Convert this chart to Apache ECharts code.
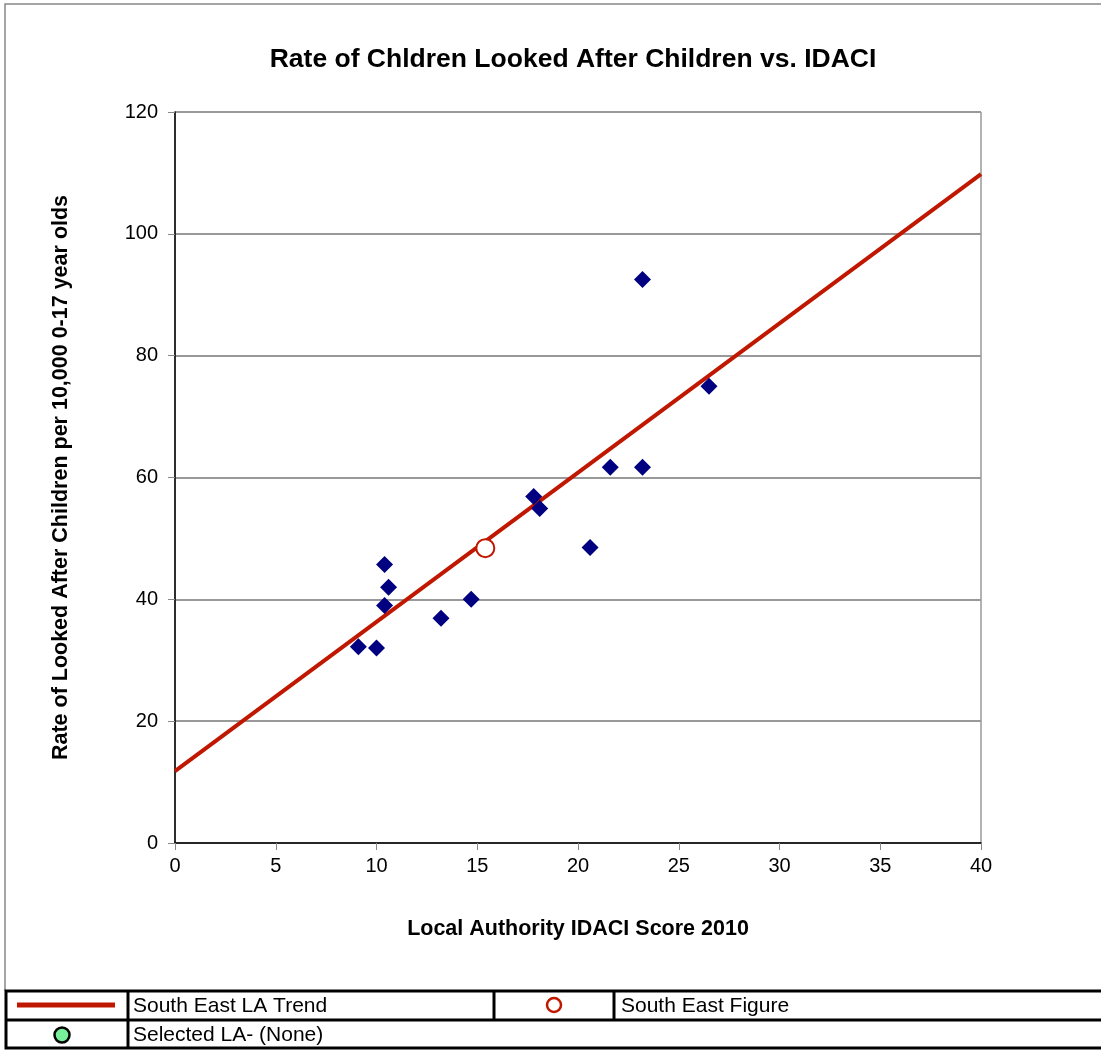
<!DOCTYPE html>
<html>
<head>
<meta charset="utf-8">
<script src="https://cdn.jsdelivr.net/npm/echarts@6/dist/echarts.min.js"></script>
<style>
html,body{margin:0;padding:0;background:#fff;}
#c{width:1101px;height:1050px;}
</style>
</head>
<body>
<div id="c"></div>
<script>
// ---- data ----
const laIdaci = [9.1, 10.0, 10.4, 10.4, 10.6, 13.2, 14.7, 17.8, 18.1, 20.6, 21.6, 23.2, 23.2, 26.5];
const laRate  = [32.2, 32.0, 45.7, 39.0, 42.0, 36.9, 40.0, 56.9, 54.9, 48.5, 61.7, 61.7, 92.5, 75.0];
const seFigure = [15.4, 48.4];
const trendX = [0, 40];
const trendY = [11.8, 109.8];
const xTicks = [0, 5, 10, 15, 20, 25, 30, 35, 40];
const yTicks = [0, 20, 40, 60, 80, 100, 120];
const titleText = 'Rate of Chldren Looked After Children vs. IDACI';
const xName = 'Local Authority IDACI Score 2010';
const yName = 'Rate of Looked After Children per 10,000 0-17 year olds';
const legendLabels = ['South East LA Trend', 'South East Figure', 'Selected LA- (None)'];

const FONT = '"Liberation Sans", Arial, sans-serif';
const chart = echarts.init(document.getElementById('c'), null, {renderer: 'canvas'});

const laPts = laIdaci.map((x, i) => [x, laRate[i]]);
const trendPts = trendX.map((x, i) => [x, trendY[i]]);

const TOP = 112, LEFT = 175, RIGHT_X = 981, BOTTOM_Y = 843;

chart.setOption({
  animation: false,
  backgroundColor: '#fff',
  title: {
    text: titleText,
    left: 568, top: 41, textAlign: 'center',
    textStyle: {fontFamily: FONT, fontSize: 26.5, fontWeight: 'bold', color: '#000'}
  },
  grid: {left: LEFT, top: TOP, right: 1101 - RIGHT_X, bottom: 1050 - BOTTOM_Y, containLabel: false,
         show: true, borderColor: '#666', borderWidth: 1},
  xAxis: {
    type: 'value', min: xTicks[0], max: xTicks[xTicks.length - 1], interval: 5,
    name: xName, nameLocation: 'middle', nameGap: 75,
    nameTextStyle: {fontFamily: FONT, fontSize: 21.5, fontWeight: 'bold', color: '#000'},
    axisLine: {show: true, onZero: false, lineStyle: {color: '#000', width: 1.5}},
    axisTick: {show: true, length: 7, lineStyle: {color: '#888', width: 1}},
    axisLabel: {fontFamily: FONT, fontSize: 20, color: '#000', margin: 13},
    splitLine: {show: false}
  },
  yAxis: {
    type: 'value', min: yTicks[0], max: yTicks[yTicks.length - 1], interval: 20,
    name: yName, nameLocation: 'middle', nameGap: 103, nameRotate: 90,
    nameTextStyle: {fontFamily: FONT, fontSize: 21.5, fontWeight: 'bold', color: '#000'},
    axisLine: {show: true, onZero: false, lineStyle: {color: '#000', width: 1.5}},
    axisTick: {show: true, length: 7, lineStyle: {color: '#888', width: 1}},
    axisLabel: {fontFamily: FONT, fontSize: 20, color: '#000', margin: 17},
    splitLine: {show: true, lineStyle: {color: '#999', width: 2}}
  },
  series: [
    {
      type: 'line', data: trendPts, symbol: 'none', z: 3,
      lineStyle: {color: '#C01800', width: 4}
    },
    {
      type: 'scatter', data: laPts, symbol: 'diamond', symbolSize: 17, z: 4,
      itemStyle: {color: '#000080', opacity: 1}
    },
    {
      type: 'scatter', data: [seFigure], symbol: 'circle', symbolSize: 18, z: 5,
      itemStyle: {color: '#fff', borderColor: '#C01800', borderWidth: 2, opacity: 1}
    }
  ],
  graphic: [
    // outer chart frame
    {type: 'polyline', shape: {points: [[5, 991], [5, 4], [1101, 4]]}, style: {stroke: '#888', lineWidth: 1.5, fill: null}, z: 1},
    // legend table
    {type: 'rect', shape: {x: 6, y: 991, width: 1100, height: 57}, style: {fill: '#fff', stroke: '#000', lineWidth: 3}, z: 10},
    {type: 'line', shape: {x1: 6, y1: 1020, x2: 1101, y2: 1020}, style: {stroke: '#000', lineWidth: 3}, z: 11},
    {type: 'line', shape: {x1: 128, y1: 991, x2: 128, y2: 1048}, style: {stroke: '#000', lineWidth: 3}, z: 11},
    {type: 'line', shape: {x1: 494, y1: 991, x2: 494, y2: 1020}, style: {stroke: '#000', lineWidth: 3}, z: 11},
    {type: 'line', shape: {x1: 614, y1: 991, x2: 614, y2: 1020}, style: {stroke: '#000', lineWidth: 3}, z: 11},
    {type: 'line', shape: {x1: 17, y1: 1005, x2: 115, y2: 1005}, style: {stroke: '#C01800', lineWidth: 5}, z: 12},
    {type: 'circle', shape: {cx: 554, cy: 1005, r: 7}, style: {fill: '#fff', stroke: '#C01800', lineWidth: 2.5}, z: 12},
    {type: 'circle', shape: {cx: 62, cy: 1035, r: 7.5}, style: {fill: '#77EE99', stroke: '#000', lineWidth: 2.5}, z: 12},
    {type: 'text', x: 133, y: 1006, style: {text: legendLabels[0], font: '21px ' + FONT, fill: '#000', textVerticalAlign: 'middle'}, z: 12},
    {type: 'text', x: 621, y: 1006, style: {text: legendLabels[1], font: '21px ' + FONT, fill: '#000', textVerticalAlign: 'middle'}, z: 12},
    {type: 'text', x: 133, y: 1035, style: {text: legendLabels[2], font: '21px ' + FONT, fill: '#000', textVerticalAlign: 'middle'}, z: 12}
  ]
});
</script>
</body>
</html>
